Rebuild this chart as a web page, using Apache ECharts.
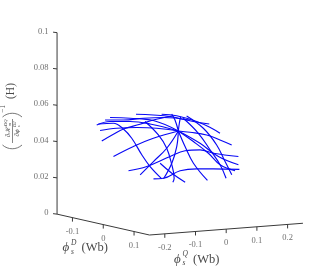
<!DOCTYPE html>
<html><head><meta charset="utf-8">
<script src="https://cdn.jsdelivr.net/npm/echarts@6/dist/echarts.min.js"></script>
<style>html,body{margin:0;padding:0;background:#fff}#c{width:335px;height:266px}</style></head>
<body><div id="c"></div>
<script>
// Surface mesh, each point is [phi_D, phi_Q, value]
const hub = [0.0039,-0.0093,0.0486];
const backCurves = [
 [[-.0808,-.1902,.0510],[-.0797,-.1479,.0524],[-.0633,-.0993,.0524],[-.0400,-.0576,.0514],hub],
 [[-.0615,-.1987,.0488],[-.0546,-.1514,.0497],[-.0401,-.1008,.0500],[-.0217,-.0542,.0497],hub],
 [[-.0296,-.2251,.0446],[-.0397,-.1771,.0473],[-.0472,-.1371,.0494],[-.0472,-.0829,.0513],[-.0490,-.0377,.0530],[-.0453,.0236,.0547]],
 [[.0261,-.2429,.0384],[.0131,-.1649,.0424],[.0050,-.0917,.0457],hub],
 [[-.0887,-.1551,.0530],[-.0737,-.1106,.0530],[-.0621,-.0571,.0537],[-.0477,-.0065,.0540],[-.0189,.0514,.0530]],
 [[-.0915,-.1361,.0540],[-.0731,-.0895,.0537],[-.0470,-.0397,.0528],hub],
 [[-.0800,-.0631,.0553],[-.0637,-.0230,.0550],[-.0451,.0126,.0544],[-.0112,.0546,.0524],[.0088,.0866,.0514]],
 [[-.0589,-.0007,.0553],[-.0425,.0317,.0547],[-.0085,.0627,.0524],[.0235,.0795,.0497],[.0451,.0850,.0477]]
];
const fallingCurves = [
 [[-.0824,-.1831,.0514],[-.0721,-.1447,.0517],[-.0472,-.1371,.0494],[-.0128,-.1443,.0457],[.0445,-.1691,.0391],[.0857,-.1833,.0344],[.1316,-.1912,.0295]],
 [[-.0510,-.0628,.0524],[-.0007,-.0697,.0470],[.0454,-.0888,.0417],[.0987,-.1257,.0351],[.1399,-.1594,.0297],[.1506,-.1744,.0281]],
 [[-.0293,.0401,.0537],[.0273,.0324,.0477],[.0860,.0116,.0411],[.1384,-.0083,.0351],[.15,-.0004,.0280]],
 [[-.0334,.0551,.0546],[.0167,.0592,.0497],[.0767,.0425,.0430],[.1327,.0137,.0364],[.15,.0181,.0297]],
 [[.0842,-.1492,.0357],[.1232,-.1502,.0317],[.15,-.1337,.0276]]
];
const rayCurves = [
 [[.1021,-.2322,.0311],[.0738,-.1605,.0364],[.0454,-.0888,.0417],hub],
 [hub,[.0488,-.0596,.0424],[.0938,-.1208,.0357],[.1330,-.1872,.0295]],
 [hub,[.0556,-.0393,.0424],[.1116,-.0682,.0357],[.15,-.0611,.0276]],
 [hub,[.0478,-.0044,.0444],[.0944,-.0022,.0397],[.1384,-.0083,.0351],[.15,.0289,.0318]],
 [hub,[.0581,.0069,.0437],[.1124,.0123,.0384],[.1535,.0363,.0351]],
 [hub,[.0175,.0150,.0481],[.0390,.0477,.0470],[.0647,.0654,.0450],[.0891,.0790,.0430]],
 [hub,[-.0312,.0150,.0530],[-.0516,.0246,.0554]],
 [hub,[-.0178,.0157,.0517],[-.0364,.0385,.0544]]
];
const frontCurves = [
 [[.0807,-.2487,.0327],[.0830,-.1914,.0344],[.0727,-.1052,.0384],[.0683,-.0520,.0407],[.0777,-.0127,.0411],[.0985,.0099,.0397],[.1289,.0609,.0384]],
 [[.1248,-.2115,.0295],[.1311,-.1853,.0297],[.1232,-.1232,.0327],[.1310,-.0768,.0335],[.1447,-.0363,.0335],[.15,.043,.0324]]
];
const zTicks=[0,0.02,0.04,0.06,0.08,0.1], dTicks=[-0.1,0,0.1], qTicks=[-0.2,-0.1,0,0.1,0.2];
const D0=-0.15,D1=0.15,Q0=-0.25,Q1=0.25;

const project = (D,Q,z)=>[180+308*D+307*Q, 218.7+69.5*D-23.5*Q-1815*z];
const series = [...backCurves,...fallingCurves,...rayCurves,...frontCurves].map(c=>({type:'line',smooth:0.4,symbol:'none',silent:true,
  lineStyle:{color:'#0808f5',width:1.15},data:c.map(p=>project(p[0],p[1],p[2]))}));
const seg=(a,b)=>({type:'line',symbol:'none',silent:true,lineStyle:{color:'#3a3a3a',width:1},data:[a,b]});
series.push(seg(project(D0,Q0,0),project(D0,Q0,0.1)));
series.push(seg(project(D0,Q0,0),project(D1,Q0,0)));
series.push(seg(project(D1,Q0,0),project(D1,Q1,0)));
const font='"Liberation Serif",serif', ink='#4a4a4a';
const lab=[];
zTicks.forEach(t=>{const p=project(D0,Q0,t);series.push(seg([p[0]-4,p[1]-0.5],p));
  lab.push({value:[p[0]-8.5,p[1]-1],label:{formatter:String(t),align:'right'}})});
dTicks.forEach(t=>{const p=project(t,Q0,0);series.push(seg(p,[p[0],p[1]+4]));
  lab.push({value:[p[0],p[1]+14.3],label:{formatter:String(t),align:'center'}})});
qTicks.forEach(t=>{const p=project(D1,t,0);series.push(seg(p,[p[0],p[1]+4]));
  lab.push({value:[p[0],p[1]+13.7],label:{formatter:String(t),align:'center'}})});
series.push({type:'scatter',symbolSize:0,silent:true,data:lab,
 label:{show:true,position:'inside',color:ink,fontFamily:font,fontSize:8.5,verticalAlign:'middle'}});

const txt=(s,x,y,f,align,va)=>({type:'text',style:{text:s,x,y,font:f+' '+font,fill:ink,align:align||'left',verticalAlign:va||'middle'}});
const nameLabel=(x,y,s)=>({type:'group',x,y,children:[
 txt('ϕ',0,0,'italic 13px'),
 txt(s,8.5,-5,'italic 7.5px'),
 txt('s',8.5,4,'italic 7.5px'),
 txt('(Wb)',19,0,'12.5px')]});
const paren=(x,dir)=>({type:'bezierCurve',shape:{x1:x,y1:-10,x2:x,y2:9.5,cpx1:x+dir*5,cpy1:-4.5,cpx2:x+dir*5,cpy2:4},style:{stroke:'#666',lineWidth:0.9,fill:null}});
const yLabel={type:'group',x:12.5,y:131,rotation:Math.PI/2,children:[
 paren(-14,-1),paren(14,1),
 txt('∂ℋ',-1,-1,'italic 7px','center','bottom'),
 txt('DQ',5,-4,'italic 4.5px','left','bottom'),
 txt('m',5,-.5,'italic 4px','left','bottom'),
 txt('∂ϕ',-2,1,'italic 7px','center','top'),
 txt('D2',4,0,'italic 4.5px','left','top'),
 txt('s',4,4.5,'italic 4px','left','top'),
 {type:'rect',shape:{x:-12,y:-0.4,width:24,height:0.7},style:{fill:'#555'}},
 txt('−1',22,-9.5,'7.5px','center'),
 txt('(H)',40,-1.5,'11.5px','center')
]};
const chart=echarts.init(document.getElementById('c'),null,{renderer:'canvas'});
chart.setOption({animation:false,
 grid:{left:0,top:0,width:335,height:266},
 xAxis:{type:'value',min:0,max:335,show:false},
 yAxis:{type:'value',min:0,max:266,inverse:true,show:false},
 series,
 graphic:[nameLabel(62.5,248,'D'),nameLabel(174,259.5,'Q'),yLabel]});
</script></body></html>
